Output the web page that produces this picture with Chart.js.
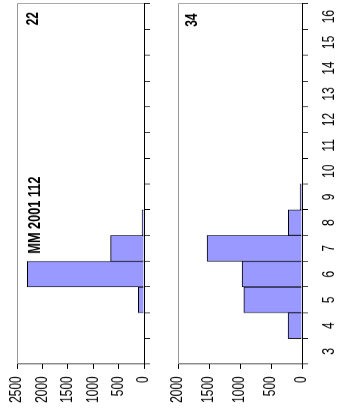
<!DOCTYPE html>
<html>
<head>
<meta charset="utf-8">
<script src="https://cdn.jsdelivr.net/npm/chart.js@4/dist/chart.umd.min.js"></script>
<style>
  html, body { margin: 0; padding: 0; background: #fff; overflow: hidden; }
  body { width: 343px; height: 416px; position: relative; }
  /* the two histograms are laid out one above the other in a wide landscape sheet,
     narrowed along their length and then turned a quarter turn */
  #sheet {
    position: absolute; left: 0; top: 0;
    width: 555px; height: 343px;
    transform-origin: 0 0;
    transform: translateY(416px) rotate(-90deg) scaleX(0.74955);
  }
  #sheet canvas { position: absolute; left: 0; }
  #top { top: 0; }
  #bottom { top: 165px; }
</style>
</head>
<body>
<div id="sheet">
  <canvas id="top" width="555" height="165"></canvas>
  <canvas id="bottom" width="555" height="178"></canvas>
</div>
<script>
// size classes along the horizontal axis
const sizeClasses = ['3', '4', '5', '6', '7', '8', '9', '10', '11', '12', '13', '14', '15', '16'];

// counts per size class, sample 22 (MM 2001 112)
const counts22 = [0, 0, 112, 2295, 657, 40, 0, 0, 0, 0, 0, 0, 0, 0];
// counts per size class, sample 34
const counts34 = [0, 226, 940, 968, 1532, 221, 30, 0, 0, 0, 0, 0, 0, 0];

// value axis tick steps
const countTicks22 = [0, 500, 1000, 1500, 2000, 2500];
const countTicks34 = [0, 500, 1000, 1500, 2000];

const FONT = 'Liberation Sans, Arial, sans-serif';
const BAR_FILL = '#9999ff';
const FRAME = '#999999';

// grey frame on the open sides of the plot, plus bold captions inside it
const framePlugin = {
  id: 'frameAndCaptions',
  beforeDatasetsDraw(chart, args, opts) {
    const { ctx, chartArea: a } = chart;
    ctx.save();
    ctx.strokeStyle = FRAME;
    ctx.lineWidth = 1;
    ctx.beginPath();
    ctx.moveTo(a.left, Math.round(a.top) + 0.5);
    ctx.lineTo(Math.round(a.right) + 0.5, Math.round(a.top) + 0.5);
    ctx.lineTo(Math.round(a.right) + 0.5, a.bottom);
    ctx.stroke();
    ctx.restore();
  },
  afterDraw(chart, args, opts) {
    const { ctx } = chart;
    ctx.save();
    ctx.fillStyle = '#000';
    ctx.textBaseline = 'top';
    (opts.captions || []).forEach(c => {
      ctx.font = 'bold ' + c.size + 'px ' + FONT;
      ctx.textAlign = c.align;
      ctx.fillText(c.text, c.x, c.y);
    });
    ctx.restore();
  }
};

function makeChart(id, values, tickValues, axisHeight, topPad, showLabels, captions) {
  const maxVal = tickValues[tickValues.length - 1];
  return new Chart(document.getElementById(id), {
    type: 'bar',
    data: {
      labels: sizeClasses,
      datasets: [{
        data: values,
        backgroundColor: BAR_FILL,
        borderColor: '#000',
        borderWidth: 1,
        barPercentage: 1,
        categoryPercentage: 1
      }]
    },
    options: {
      responsive: false,
      animation: false,
      devicePixelRatio: 1,
      layout: { padding: { top: topPad, right: 5, left: 0, bottom: 0 } },
      plugins: {
        legend: { display: false },
        tooltip: { enabled: false },
        frameAndCaptions: { captions: captions }
      },
      scales: {
        x: {
          type: 'category',
          offset: true,
          grid: { offset: true, drawOnChartArea: false, drawTicks: true, tickLength: 6, color: '#000' },
          border: { color: '#000', width: 1 },
          ticks: {
            color: showLabels ? '#000' : 'rgba(0,0,0,0)',
            font: { family: FONT, size: 16 },
            maxRotation: 0, minRotation: 0, autoSkip: false, padding: 12
          },
          afterFit(s) {
            s.height = axisHeight;
            s.paddingLeft = 0; s.paddingRight = 0;
          }
        },
        y: {
          min: 0,
          max: maxVal,
          afterBuildTicks(s) { s.ticks = tickValues.map(v => ({ value: v })); },
          grid: { drawOnChartArea: false, drawTicks: true, tickLength: 6, color: '#000' },
          border: { color: '#000', width: 1 },
          ticks: {
            color: '#000',
            font: { family: FONT, size: 16 },
            padding: 10,
            callback: v => String(v)
          },
          afterFit(s) {
            s.width = 69;
            s.paddingTop = 0; s.paddingBottom = 0;
          }
        }
      }
    },
    plugins: [framePlugin]
  });
}

makeChart('top', counts22, countTicks22, 21, 17, false, [
  { text: '22', x: 539, y: 26, size: 16, align: 'right' },
  { text: 'MM 2001 112', x: 268, y: 27, size: 17, align: 'center' }
]);
makeChart('bottom', counts34, countTicks34, 41, 13, true, [
  { text: '34', x: 537, y: 20, size: 16, align: 'right' }
]);
</script>
</body>
</html>
